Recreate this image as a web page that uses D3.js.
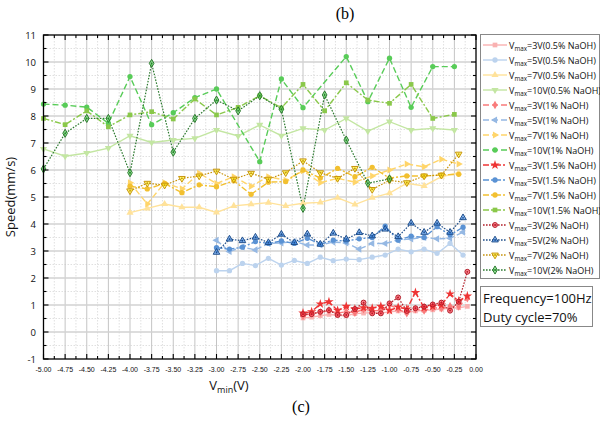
<!DOCTYPE html>
<html>
<head>
<meta charset="utf-8">
<script src="https://cdn.jsdelivr.net/npm/d3@7"></script>
<style>
  body { margin: 0; background: #fff; }
  svg { font-family: "Open Sans", "Noto Sans", sans-serif; }
</style>
</head>
<body>
<svg id="chart" width="600" height="423"></svg>
<script>
// x positions of each voltage group
var x3 = d3.range(20).map(i => +(-2.0 + 0.1 * i).toFixed(2));
var x5 = d3.range(20).map(i => +(-3.0 + 0.15 * i).toFixed(2));
var x7 = d3.range(20).map(i => +(-4.0 + 0.2 * i).toFixed(2));
var x10 = d3.range(20).map(i => -5.0 + 0.25 * i);

// speeds (mm/s)
var v3_05 = [0.52, 0.55, 0.60, 0.65, 0.62, 0.60, 0.68, 0.70, 0.72, 0.70, 0.75, 0.78, 0.72, 0.78, 0.80, 0.82, 0.85, 0.88, 0.90, 0.95];
var v5_05 = [2.27, 2.27, 2.54, 2.46, 2.73, 2.48, 2.65, 2.54, 2.77, 2.64, 2.70, 2.68, 2.77, 2.85, 3.07, 2.97, 3.07, 2.91, 3.28, 2.85];
var v7_05 = [4.42, 4.58, 4.74, 4.62, 4.62, 4.43, 4.67, 4.73, 4.79, 4.67, 4.77, 4.80, 4.97, 4.72, 4.97, 5.14, 5.51, 5.41, 5.75, 5.90];
var v10_05 = [6.78, 6.51, 6.63, 6.81, 7.27, 7.02, 7.11, 7.17, 7.48, 7.26, 7.67, 7.27, 7.54, 7.48, 7.91, 7.44, 7.79, 7.48, 7.54, 7.48];

var v3_1 = [0.60, 0.70, 0.72, 0.80, 0.70, 0.75, 0.72, 0.85, 0.78, 0.80, 1.00, 0.85, 0.70, 0.85, 0.80, 0.90, 0.88, 0.95, 0.95, 1.25];
var v5_1 = [3.40, 2.98, 3.15, 3.04, 3.28, 3.30, 3.35, 3.22, 3.22, 3.33, 3.30, 3.07, 3.28, 3.28, 3.40, 3.45, 3.50, 3.45, 3.47, 3.70];
var v7_1 = [5.53, 4.74, 5.53, 5.30, 5.88, 5.50, 5.75, 5.40, 5.75, 5.62, 5.97, 5.53, 5.69, 5.55, 5.78, 6.00, 6.22, 6.12, 6.40, 6.22];
var v10_1 = [8.44, 8.40, 8.33, 7.73, 9.46, 7.68, 8.12, 8.68, 9.00, null, 6.31, 9.37, 8.31, null, 10.20, 8.53, 10.14, 8.32, 9.83, 9.83];

var v3_15 = [0.70, 0.75, 1.04, 1.12, 0.80, 0.95, 0.85, 0.90, 0.88, 0.95, 0.80, 0.92, 0.85, 1.46, 0.90, 0.95, 1.00, 1.41, 1.15, 1.33];
var v5_15 = [3.12, 3.07, 3.14, 3.35, 3.28, 3.37, 3.28, 3.47, 3.25, 3.40, 3.37, 3.45, 3.50, 3.92, 3.40, 3.55, 3.50, 3.90, 3.60, 3.88];
var v7_15 = [5.40, 5.30, 5.50, 5.16, 5.45, 5.38, 5.60, 5.10, 5.55, 5.57, 6.00, 5.70, 6.06, 5.75, 6.10, 5.70, 5.78, 5.78, 5.82, 5.84];
var v10_15 = [7.91, 7.68, 8.19, 7.60, 8.04, 8.16, 7.89, 8.63, 8.04, 8.32, 8.75, 8.30, 9.17, 8.19, 9.23, 8.59, 8.47, 9.17, 7.91, 8.06];

var v3_2 = [0.66, 0.66, 0.75, 0.81, 0.63, 0.63, 0.85, 1.09, 0.69, 0.69, 1.06, 1.28, 0.78, 0.88, 0.94, 1.02, 1.09, 0.79, 1.12, 2.23];
var v5_2 = [2.95, 3.44, 3.38, 3.51, 3.31, 3.62, 3.31, 3.63, 3.25, 3.66, 3.44, 3.68, 3.56, 3.81, 3.53, 4.03, 3.69, 4.03, 3.69, 4.23];
var v7_2 = [5.23, 5.51, 5.44, 5.69, 5.78, 5.96, 5.66, 5.88, 5.66, 5.90, 6.34, 5.90, 5.69, 6.06, 5.28, 5.62, 5.53, 5.78, 5.81, 6.59];
var v10_2 = [6.04, 7.36, 7.91, 7.91, 5.90, 9.95, 6.66, 7.91, 8.59, 8.19, 8.75, 8.25, 4.58, 8.78, 7.11, 5.51, 5.67];

var labels = ["3V(0.5% NaOH)", "5V(0.5% NaOH)", "7V(0.5% NaOH)", "10V(0.5% NaOH)",
  "3V(1% NaOH)", "5V(1% NaOH)", "7V(1% NaOH)", "10V(1% NaOH)",
  "3V(1.5% NaOH)", "5V(1.5% NaOH)", "7V(1.5% NaOH)", "10V(1.5% NaOH)",
  "3V(2% NaOH)", "5V(2% NaOH)", "7V(2% NaOH)", "10V(2% NaOH)"];
var yTicks = d3.range(-1, 12);
var xTicks = d3.range(0, 21).map(i => -5 + 0.25 * i);

// styles
var colors = ["#f9b1b1", "#bcd3ee", "#ffe29a", "#c3e6a2",
  "#f97b7b", "#95b8e3", "#ffd56a", "#58cc58",
  "#ee3434", "#5a92d4", "#f2c030", "#8ac84a",
  "#b21f2a", "#214f8a", "#c8940e", "#2d7a30"];
var dashes = [null, "6,3", "6,2,2,2", "1.6,1.4"];
var symRot = [
  [d3.symbolSquare, 0], [d3.symbolCircle, 0], [d3.symbolTriangle, 0], [d3.symbolTriangle, 180],
  [d3.symbolDiamond, 0], [d3.symbolTriangle, -90], [d3.symbolTriangle, 90], [d3.symbolCircle, 0],
  [d3.symbolStar, 0], [d3.symbolCircle, 0], [d3.symbolCircle, 0], [d3.symbolSquare, 0],
  [d3.symbolCircle, 0], [d3.symbolTriangle, 0], [d3.symbolTriangle, 180], [d3.symbolDiamond, 0]];

var xs = [x3, x5, x7, x10];
var vals = [v3_05, v5_05, v7_05, v10_05, v3_1, v5_1, v7_1, v10_1,
  v3_15, v5_15, v7_15, v10_15, v3_2, v5_2, v7_2, v10_2];

var series = vals.map(function (v, k) {
  var xa = xs[k % 4];
  return {
    label: labels[k],
    color: colors[k],
    dash: dashes[Math.floor(k / 4)],
    sym: symRot[k],
    hollow: k >= 12,
    pts: v.map((d, i) => ({ x: xa[i], y: d })).filter(d => d.y != null)
  };
});

var svg = d3.select("#chart");
var L = 43.5, R = 476, T = 35, B = 359;
var x = d3.scaleLinear().domain([-5, 0]).range([L, R]);
var y = d3.scaleLinear().domain([-1, 11]).range([B, T]);

// grid
var grid = svg.append("g");
grid.selectAll(".vminor").data(d3.range(0, 40).map(i => -5 + 0.125 + 0.25 * i).filter(v => v < 0))
  .enter().append("line")
  .attr("x1", d => x(d)).attr("x2", d => x(d)).attr("y1", T).attr("y2", B)
  .attr("stroke", "#d8d8d8").attr("stroke-width", 0.8).attr("stroke-dasharray", "1.5,1.5");
grid.selectAll(".hminor").data(d3.range(-1, 11).map(v => v + 0.5))
  .enter().append("line")
  .attr("x1", L).attr("x2", R).attr("y1", d => y(d)).attr("y2", d => y(d))
  .attr("stroke", "#d8d8d8").attr("stroke-width", 0.8).attr("stroke-dasharray", "1.5,1.5");
grid.selectAll(".vmajor").data(xTicks.slice(1, -1))
  .enter().append("line")
  .attr("x1", d => x(d)).attr("x2", d => x(d)).attr("y1", T).attr("y2", B)
  .attr("stroke", "#c4c4c4").attr("stroke-width", 1);
grid.selectAll(".hmajor").data(yTicks.slice(1, -1))
  .enter().append("line")
  .attr("x1", L).attr("x2", R).attr("y1", d => y(d)).attr("y2", d => y(d))
  .attr("stroke", "#d2d2d2").attr("stroke-width", 1.6);

// series
var line = d3.line().x(d => x(d.x)).y(d => y(d.y));
var plot = svg.append("g");
series.forEach(function (s) {
  plot.append("path")
    .datum(s.pts)
    .attr("d", line)
    .attr("fill", "none")
    .attr("stroke", s.color)
    .attr("stroke-width", s.hollow ? 1.2 : 1.4)
    .attr("stroke-dasharray", s.dash);
});
function drawMarker(g, s, px, py) {
  var size = s.sym[0] === d3.symbolStar ? 28 : (s.hollow ? 19 : 22);
  var sym = d3.symbol().type(s.sym[0]).size(size);
  g.append("path")
    .attr("d", sym())
    .attr("transform", "translate(" + px + "," + py + ") rotate(" + s.sym[1] + ")")
    .attr("fill", s.hollow ? d3.color(s.color).brighter(1.6).copy({ opacity: 0.6 }) : s.color)
    .attr("stroke", s.hollow ? s.color : "none")
    .attr("stroke-width", 1);
  if (s.hollow) {
    g.append("circle").attr("cx", px).attr("cy", py).attr("r", 0.9).attr("fill", s.color);
  }
}
series.forEach(function (s) {
  var g = plot.append("g");
  s.pts.forEach(d => drawMarker(g, s, x(d.x), y(d.y)));
});

// frame and ticks
svg.append("rect").attr("x", L).attr("y", T).attr("width", R - L).attr("height", B - T)
  .attr("fill", "none").attr("stroke", "#000").attr("stroke-width", 1.3);
var ticks = svg.append("g").attr("stroke", "#000").attr("stroke-width", 1.1);
d3.range(0, 41).map(i => -5 + 0.125 * i).forEach(function (v, i) {
  var len = i % 2 === 0 ? 5 : 3;
  ticks.append("line").attr("x1", x(v)).attr("x2", x(v)).attr("y1", B).attr("y2", B - len);
  ticks.append("line").attr("x1", x(v)).attr("x2", x(v)).attr("y1", T).attr("y2", T + len);
});
d3.range(0, 25).map(i => -1 + 0.5 * i).forEach(function (v, i) {
  var len = i % 2 === 0 ? 5 : 3;
  ticks.append("line").attr("x1", L).attr("x2", L + len).attr("y1", y(v)).attr("y2", y(v));
  ticks.append("line").attr("x1", R).attr("x2", R - len).attr("y1", y(v)).attr("y2", y(v));
});

// tick labels
svg.append("g").selectAll("text").data(yTicks).enter().append("text")
  .attr("x", 36).attr("y", d => y(d) + 3.5)
  .attr("text-anchor", "end").attr("font-size", 9.5).attr("fill", "#111")
  .text(d => d);
svg.append("g").selectAll("text").data(xTicks).enter().append("text")
  .attr("x", d => x(d)).attr("y", 372)
  .attr("text-anchor", "middle").attr("font-size", 7)
  .attr("font-family", "'Liberation Sans Narrow', 'Liberation Sans', sans-serif")
  .attr("fill", "#111")
  .text(d => d.toFixed(2));

// axis titles
svg.append("text").attr("transform", "translate(15,197) rotate(-90)")
  .attr("text-anchor", "middle").attr("font-size", 13).attr("fill", "#111")
  .text("Speed(mm/s)");
var xt = svg.append("text").attr("x", 229).attr("y", 390)
  .attr("text-anchor", "middle").attr("font-size", 13).attr("fill", "#111");
xt.append("tspan").text("V");
xt.append("tspan").attr("font-size", 9).attr("dy", 3).text("min");
xt.append("tspan").attr("dy", -3).text("(V)");

svg.append("text").attr("x", 345).attr("y", 19).attr("text-anchor", "middle")
  .attr("font-family", "'Liberation Serif', 'DejaVu Serif', serif").attr("font-size", 16).text("(b)");
svg.append("text").attr("x", 301).attr("y", 412).attr("text-anchor", "middle")
  .attr("font-family", "'Liberation Serif', 'DejaVu Serif', serif").attr("font-size", 16).text("(c)");

// legend
var lg = svg.append("g");
lg.append("rect").attr("x", 480.5).attr("y", 34.5).attr("width", 119).attr("height", 244)
  .attr("fill", "#fff").attr("stroke", "#888").attr("stroke-width", 1);
series.forEach(function (s, i) {
  var ly = 45 + 15 * i;
  lg.append("line").attr("x1", 483).attr("x2", 507).attr("y1", ly).attr("y2", ly)
    .attr("stroke", s.color).attr("stroke-width", 1.4).attr("stroke-dasharray", s.dash);
  drawMarker(lg, s, 495, ly);
  var t = lg.append("text").attr("x", 509).attr("y", ly + 3.5)
    .attr("font-size", 9).attr("fill", "#111");
  t.append("tspan").text("V");
  t.append("tspan").attr("font-size", 6.3).attr("dy", 2.5).text("max");
  t.append("tspan").attr("dy", -2.5).text("=" + s.label);
});

// condition box
var cb = svg.append("g");
cb.append("rect").attr("x", 480.5).attr("y", 286.5).attr("width", 112).attr("height", 40)
  .attr("fill", "#fff").attr("stroke", "#888").attr("stroke-width", 1);
cb.append("text").attr("x", 483).attr("y", 303).attr("font-size", 13).attr("fill", "#111")
  .text("Frequency=100Hz");
cb.append("text").attr("x", 483).attr("y", 322).attr("font-size", 13).attr("fill", "#111")
  .text("Duty cycle=70%");
</script>
</body>
</html>
